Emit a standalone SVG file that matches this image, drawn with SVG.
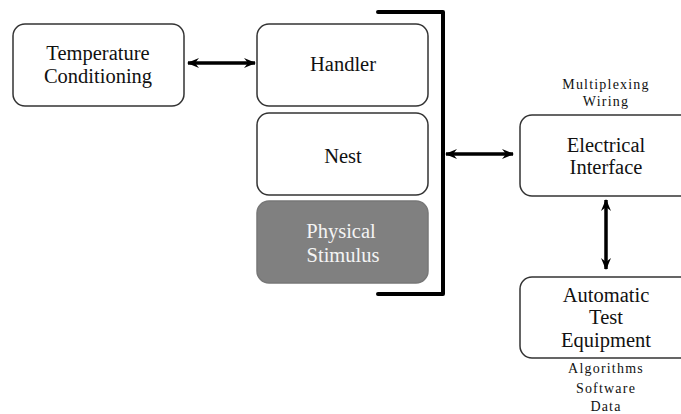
<svg xmlns="http://www.w3.org/2000/svg" width="681" height="414" viewBox="0 0 681 414">
<defs>
<marker id="ah" viewBox="0 0 12 10" refX="11" refY="5" markerWidth="12" markerHeight="10" markerUnits="userSpaceOnUse" orient="auto-start-reverse">
<path d="M0,0 L12,5 L0,10 L4,5 Z" fill="#000"/>
</marker>
<style>
.box{fill:#fff;stroke:#333;stroke-width:1.5}
.dark{fill:#808080;stroke:#777;stroke-width:1.5}
.t{font-family:"Liberation Serif","Times New Roman",serif;font-size:20.5px;fill:#111;text-anchor:middle}
.tw{font-family:"Liberation Serif","Times New Roman",serif;font-size:20.5px;fill:#f4f4f4;text-anchor:middle}
.s{font-family:"Liberation Serif","Times New Roman",serif;font-size:14px;letter-spacing:1.2px;fill:#111;text-anchor:middle}
.c{stroke:#000;stroke-width:3.5;fill:none}
.br{stroke:#000;stroke-width:4;fill:none;stroke-linecap:round;stroke-linejoin:round}
</style>
</defs>
<rect width="681" height="414" fill="#fff"/>
<g id="temperature-conditioning">
<rect class="box" x="13" y="24" width="171" height="82" rx="12"/>
<text class="t" x="98" y="60">Temperature</text>
<text class="t" x="98" y="83">Conditioning</text>
</g>
<g id="handler">
<rect class="box" x="257" y="24" width="171" height="82" rx="12"/>
<text class="t" x="343" y="71">Handler</text>
</g>
<g id="nest">
<rect class="box" x="257" y="113" width="171" height="82" rx="12"/>
<text class="t" x="343" y="163">Nest</text>
</g>
<g id="physical-stimulus">
<rect class="dark" x="257" y="201" width="171" height="82" rx="12"/>
<text class="tw" x="341" y="238">Physical</text>
<text class="tw" x="343" y="262">Stimulus</text>
</g>
<g id="electrical-interface">
<rect class="box" x="520" y="115" width="175" height="81" rx="12"/>
<text class="t" x="606" y="152">Electrical</text>
<text class="t" x="606" y="174">Interface</text>
<text class="s" x="606" y="89">Multiplexing</text>
<text class="s" x="606" y="106">Wiring</text>
</g>
<g id="automatic-test-equipment">
<rect class="box" x="520" y="277" width="175" height="81" rx="12"/>
<text class="t" x="606" y="302">Automatic</text>
<text class="t" x="606" y="324">Test</text>
<text class="t" x="606" y="347">Equipment</text>
<text class="s" x="606" y="373">Algorithms</text>
<text class="s" x="606" y="393">Software</text>
<text class="s" x="606" y="411">Data</text>
</g>
<g id="connectors">
<path class="br" d="M378,12 L443,12 L443,294 L378,294"/>
<line class="c" x1="188" y1="63" x2="255" y2="63" marker-start="url(#ah)" marker-end="url(#ah)"/>
<line class="c" x1="446" y1="154" x2="513" y2="154" marker-start="url(#ah)" marker-end="url(#ah)"/>
<line class="c" x1="606" y1="200" x2="606" y2="269" marker-start="url(#ah)" marker-end="url(#ah)"/>
</g>
</svg>
